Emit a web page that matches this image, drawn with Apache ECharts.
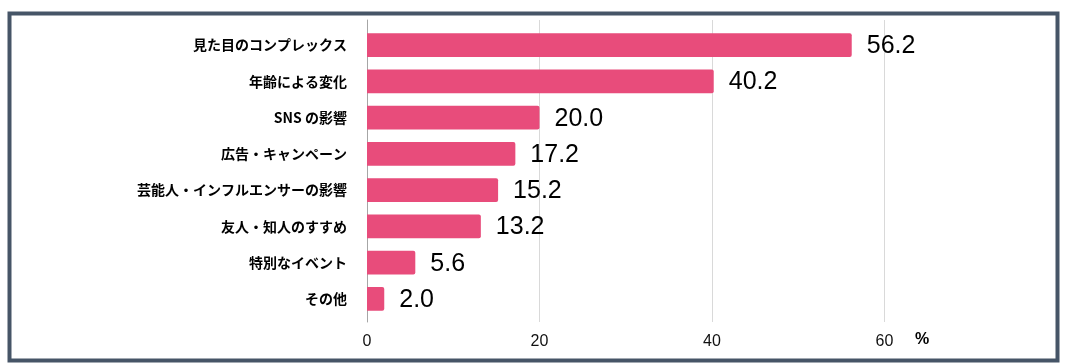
<!DOCTYPE html>
<html>
<head>
<meta charset="utf-8">
<script src="https://cdn.jsdelivr.net/npm/echarts@6/dist/echarts.min.js"></script>
<style>html,body{margin:0;padding:0;background:#fff;}#c{width:1065px;height:363px;}</style>
</head>
<body>
<div id="c"></div>
<script>
const categories = ['見た目のコンプレックス','年齢による変化','SNS の影響','広告・キャンペーン','芸能人・インフルエンサーの影響','友人・知人のすすめ','特別なイベント','その他'];
const values = [56.2, 40.2, 20.0, 17.2, 15.2, 13.2, 5.6, 2.0];
const axisMin = 0, axisMax = 80, axisStep = 20;
const unitLabel = '%';

const chart = echarts.init(document.getElementById('c'), null, {renderer:'canvas'});
const L = 367, R = 8;
chart.setOption({
  animation:false,
  backgroundColor:'#fff',
  grid:[
    {left:L, right:R, top:20, height:302},
    {left:L, right:R, top:27, height:290}
  ],
  xAxis:[
    {gridIndex:0, type:'value', min:axisMin, max:axisMax, interval:axisStep,
     axisLine:{show:false}, axisTick:{show:false},
     axisLabel:{show:true, showMaxLabel:false, margin:12, fontSize:16, color:'#111', fontFamily:'Liberation Sans, Arial, sans-serif'},
     splitLine:{show:true, showMinLine:false, showMaxLine:false, lineStyle:{color:'#d9d9d9', width:1}}},
    {gridIndex:1, type:'value', min:axisMin, max:axisMax, interval:axisStep,
     axisLine:{show:false}, axisTick:{show:false}, axisLabel:{show:false}, splitLine:{show:false}}
  ],
  yAxis:[
    {gridIndex:0, type:'value', min:0, max:1, axisLine:{show:true, lineStyle:{color:'#a6a6a6', width:1}}, axisTick:{show:false}, axisLabel:{show:false}, splitLine:{show:false}},
    {gridIndex:1, type:'category', inverse:true, data:categories,
     axisLine:{show:false}, axisTick:{show:false},
     axisLabel:{margin:20, fontSize:14, fontWeight:'bold', color:'#000', fontFamily:'Noto Sans CJK JP, sans-serif'}}
  ],
  series:[{
    type:'bar', xAxisIndex:1, yAxisIndex:1, data:values, barWidth:'65%',
    itemStyle:{color:'#E84C7B', borderRadius:[0,2,2,0]},
    label:{show:true, position:'right', distance:15, offset:[0,1], fontSize:25, color:'#000', fontFamily:'Liberation Sans, Arial, sans-serif',
      formatter:p=>p.value.toFixed(1)}
  }],
  graphic:[
    {type:'text', left:915, top:332, style:{text:unitLabel, fontSize:16, fontWeight:'bold', fill:'#000', fontFamily:'Liberation Sans, Arial, sans-serif'}},
    {type:'rect', z:100, shape:{x:9.5, y:13.5, width:1048, height:347}, style:{fill:'none', stroke:'#465567', lineWidth:4}}
  ]
});
</script>
</body>
</html>
